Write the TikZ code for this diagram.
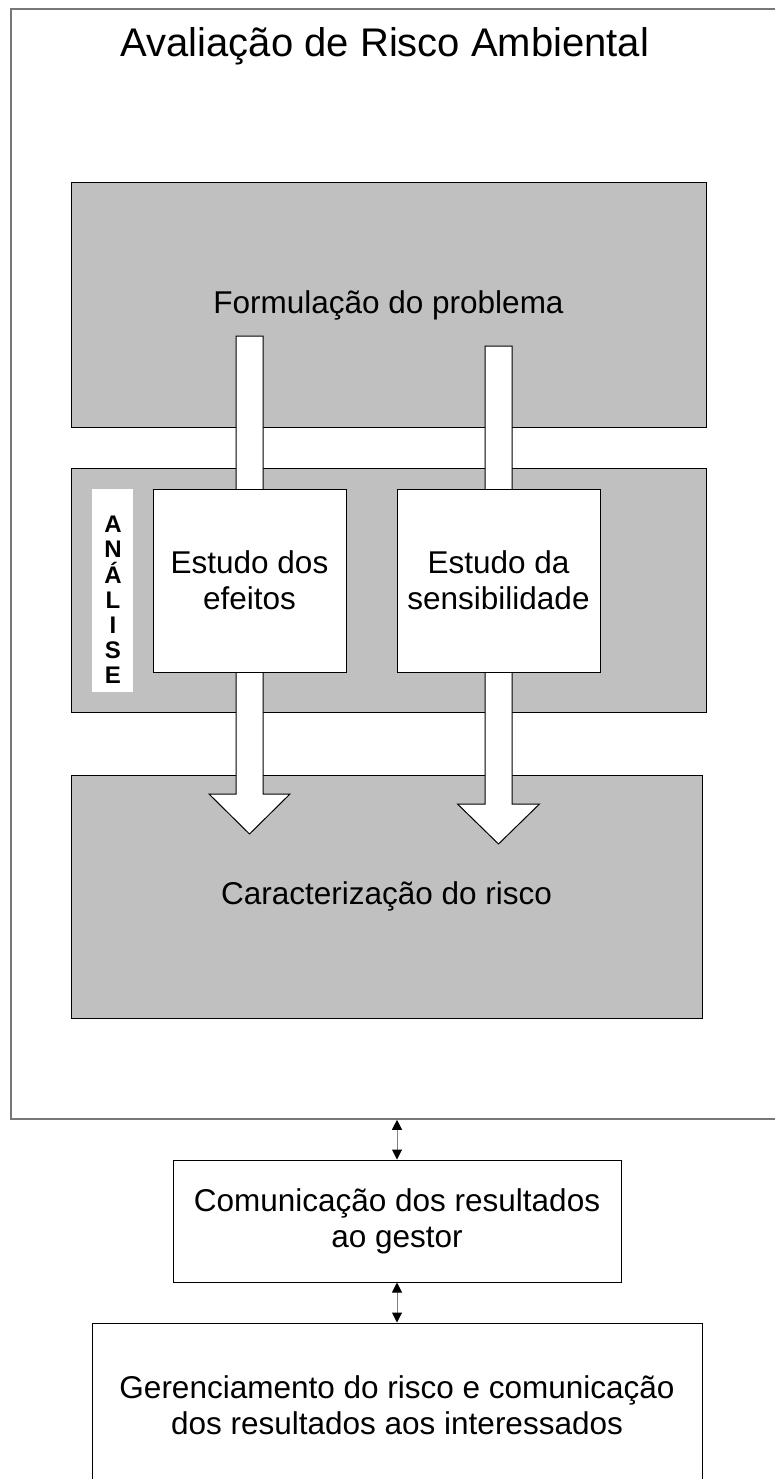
\documentclass[tikz,border=0pt]{standalone}
\usepackage{fontspec}
\setmainfont{Liberation Sans}
\usetikzlibrary{arrows.meta}
\definecolor{boxgray}{HTML}{C0C0C0}
\definecolor{framegray}{HTML}{777777}
\begin{document}
\begin{tikzpicture}[x=1pt,y=-1pt,
  txt/.style={font=\fontsize{31.5}{36}\selectfont,align=center},
  graybox/.style={draw=black,line width=1pt,fill=boxgray,inner sep=0pt,txt},
  whitebox/.style={draw=black,line width=1pt,fill=white,inner sep=0pt,txt},
  blockarrow/.style={draw=black,line width=1pt,fill=white,line join=miter},
  dbl/.style={draw=gray,line width=1pt,{Triangle[width=10pt,length=10pt,color=black]}-{Triangle[width=10pt,length=10pt,color=black]}}]
\useasboundingbox (0,0) rectangle (775,1479);
\clip (0,0) rectangle (775,1479);
\fill[white] (0,0) rectangle (775,1479);
% outer frame
\node[draw=framegray,line width=1.6pt,inner sep=0pt,minimum width=769pt,minimum height=1110pt] (outer) at (395.5,564) {};
\node[font=\fontsize{40}{46}\selectfont,anchor=base] (title) at (385,57) {Avaliação de Risco Ambiental};
% gray boxes
\node[graybox,minimum width=635pt,minimum height=244pt] (form) at (388.5,305) {Formulação do problema};
\node[graybox,minimum width=635pt,minimum height=244pt] (anal) at (388.5,590) {};
\node[graybox,minimum width=631pt,minimum height=243pt] (car) at (386.5,896.5) {Caracterização do risco};
% block arrows (head base 40 above the tip)
\path (249.5,336) coordinate (a1top) (249.5,834) coordinate (a1tip);
\path (498.5,346) coordinate (a2top) (498.5,844) coordinate (a2tip);
\draw[blockarrow] ([xshift=-13.5pt]a1top) -- ([xshift=13.5pt]a1top) -- ([xshift=13.5pt,yshift=40pt]a1tip)
  -- ([xshift=40.5pt,yshift=40pt]a1tip) -- (a1tip) -- ([xshift=-40.5pt,yshift=40pt]a1tip)
  -- ([xshift=-13.5pt,yshift=40pt]a1tip) -- cycle;
\draw[blockarrow] ([xshift=-13.5pt]a2top) -- ([xshift=13.5pt]a2top) -- ([xshift=13.5pt,yshift=40pt]a2tip)
  -- ([xshift=41pt,yshift=40pt]a2tip) -- (a2tip) -- ([xshift=-41pt,yshift=40pt]a2tip)
  -- ([xshift=-13.5pt,yshift=40pt]a2tip) -- cycle;
% analysis strip and study boxes
\fill[white] (92,489) rectangle (133,692);
\node[font=\fontsize{24}{25.2}\selectfont\bfseries,align=center,inner sep=0pt] (analise) at (113,600) {A\\N\\Á\\L\\I\\S\\E};
\node[whitebox,minimum width=193pt,minimum height=183pt] (efe) at (249.5,580.5) {Estudo dos\\efeitos};
\node[whitebox,minimum width=203pt,minimum height=183pt] (sen) at (498.5,580.5) {Estudo da\\sensibilidade};
% lower boxes
\node[whitebox,minimum width=448pt,minimum height=122pt] (com) at (397,1221) {Comunicação dos resultados\\ao gestor};
\node[whitebox,minimum width=610pt,minimum height=164pt] (ger) at (397,1405) {Gerenciamento do risco e comunicação\\dos resultados aos interessados};
% connectors
\draw[dbl] (com.north |- outer.south) -- (com.north);
\draw[dbl] (com.south) -- (ger.north);
\end{tikzpicture}
\end{document}
